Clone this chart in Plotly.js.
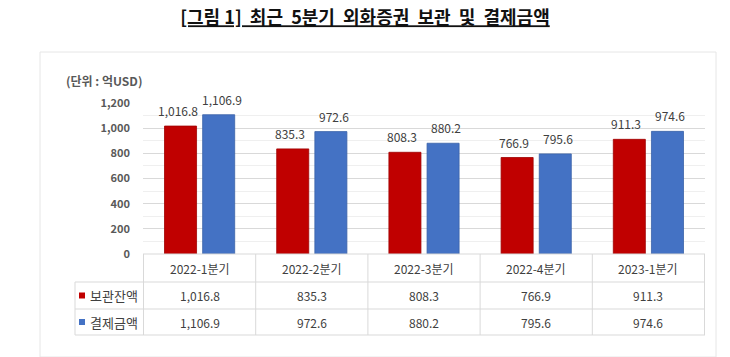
<!DOCTYPE html>
<html><head><meta charset="utf-8">
<script src="https://cdn.plot.ly/plotly-3.0.1.min.js"></script>
<style>html,body{margin:0;padding:0;background:#fff;}#c{width:730px;height:357px;}</style>
</head><body><div id="c"></div>
<script>
const categories = ['2022-1분기','2022-2분기','2022-3분기','2022-4분기','2023-1분기'];
const seriesNames = ['보관잔액','결제금액'];
const custody = [1016.8, 835.3, 808.3, 766.9, 911.3];
const settlement = [1106.9, 972.6, 880.2, 795.6, 974.6];
const yTicks = [0,200,400,600,800,1000,1200];

const W=730,H=357, L=143, R=705, T=103, B=254;
const px = x => (x-L)/(R-L);
const py = y => (B-y)/(B-T);
const fmt = v => v.toLocaleString('en-US',{minimumFractionDigits:1,maximumFractionDigits:1});
const FONT = '"Noto Sans CJK KR", "Noto Sans", sans-serif';
const colors = ['#C00000','#4472C4'];
const edge = ['#A00000','#3A62A8'];
const gridC = '#D9D9D9';

const traces = [custody, settlement].map((vals,i)=>({
  type:'bar', x:categories, y:vals, name:seriesNames[i],
  marker:{color:colors[i], line:{color:edge[i], width:0.8}},
  hoverinfo:'none'
}));

const shapes = [];
const ann = [];
// bar value labels
[custody, settlement].forEach((vals,s)=>{
  vals.forEach((v,i)=>{
    ann.push({xref:'x', yref:'y', x:categories[i], y:v, xshift: s===0?-22:22, yshift:5, yanchor:'bottom', text:fmt(v), showarrow:false, font:{family:FONT,size:12,color:'#404040'}});
  });
});
shapes.push({type:'rect', xref:'paper', yref:'paper', x0:px(40), x1:px(716), y0:py(357), y1:py(52), line:{color:'#E6E6E6', width:1}, layer:'below'});
const rowY = [254, 282, 309, 335];
rowY.forEach((y,k)=>{
  shapes.push({type:'line', xref:'paper', yref:'paper', x0: k===0? 0 : px(75), x1:1, y0:py(y), y1:py(y), line:{color:gridC, width:1}});
});
for(let i=0;i<=categories.length;i++){
  shapes.push({type:'line', xref:'x', yref:'paper', x0:i-0.5, x1:i-0.5, y0:py(254), y1:py(335), line:{color:gridC, width:1}});
}
shapes.push({type:'line', xref:'paper', yref:'paper', x0:px(75), x1:px(75), y0:py(282), y1:py(335), line:{color:gridC, width:1}});
const rowsVals=[custody, settlement];
const rowC=[295.5, 322];
categories.forEach((c,i)=>{
  ann.push({xref:'x', yref:'paper', x:i, y:py(268), yanchor:'middle', text:c, showarrow:false, font:{family:FONT,size:12,color:'#404040'}});
  rowsVals.forEach((vals,r)=>{
    ann.push({xref:'x', yref:'paper', x:i, y:py(rowC[r]), yanchor:'middle', text:fmt(vals[i]), showarrow:false, font:{family:FONT,size:12,color:'#404040'}});
  });
});
seriesNames.forEach((n,r)=>{
  const yc = rowC[r];
  shapes.push({type:'rect', xref:'paper', yref:'paper', x0:px(79), x1:px(85), y0:py(yc+3), y1:py(yc-3), fillcolor:colors[r], line:{width:0}});
  ann.push({xref:'paper', yref:'paper', x:px(88), y:py(yc), xanchor:'left', yanchor:'middle', text:n, showarrow:false, font:{family:FONT,size:13,color:'#404040'}});
});
ann.push({xref:'paper', yref:'paper', x:px(64), y:py(80), xanchor:'left', yanchor:'middle', text:'<b>(단위 : 억USD)</b>', showarrow:false, font:{family:FONT,size:12,color:'#595959'}});

const layout = {
  width:W, height:H, margin:{l:L, r:W-R, t:T, b:H-B},
  paper_bgcolor:'#fff', plot_bgcolor:'#fff',
  title:{text:'<b><u>[그림 1]  최근  5분기  외화증권  보관  및  결제금액</u></b>', x:0.5, xanchor:'center', y:1-18/H, yanchor:'middle', font:{family:FONT,size:18,color:'#111'}},
  showlegend:false,
  barmode:'group', bargap:0.32, bargroupgap:0.16,
  xaxis:{showticklabels:false, showline:false, showgrid:false, zeroline:false, ticks:''},
  yaxis:{range:[0,1200], tickvals:yTicks, ticktext:yTicks.map(v=>v.toLocaleString('en-US')), showgrid:true, gridcolor:gridC, gridwidth:1, zeroline:false, showline:false, ticks:'', ticklabelstandoff:12,
    tickfont:{family:FONT,size:11,color:'#595959', weight:'bold'},
    minor:{dtick:100, showgrid:true, gridcolor:'#EFEFEF', gridwidth:1}},
  shapes:shapes, annotations:ann,
  font:{family:FONT}
};
Plotly.newPlot('c', traces, layout, {staticPlot:true, displayModeBar:false});
</script></body></html>
